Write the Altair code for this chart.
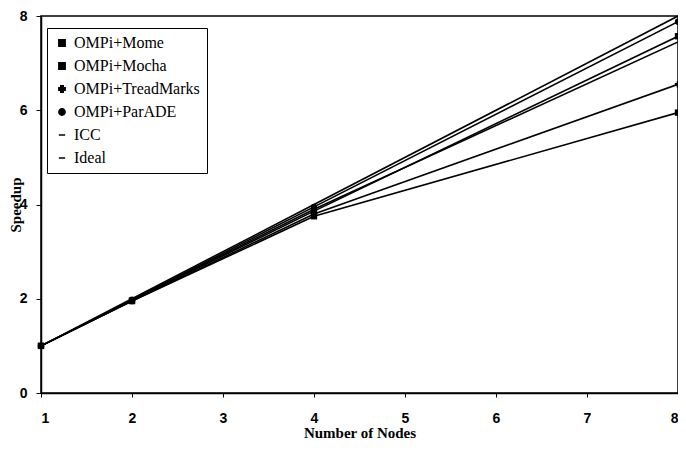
import altair as alt
import pandas as pd

nodes = [1, 2, 4, 8]
series_names = ["OMPi+Mome", "OMPi+Mocha", "OMPi+TreadMarks", "OMPi+ParADE", "ICC", "Ideal"]
mome = [1.0, 1.95, 3.75, 5.95]
mocha = [1.0, 1.96, 3.86, 7.57]
treadmarks = [1.0, 1.95, 3.80, 6.55]
parade = [1.0, 1.98, 3.95, 7.88]
icc = [1.0, 1.97, 3.90, 7.45]
ideal = [1.0, 2.0, 4.0, 8.0]
marker_series = ["OMPi+Mome", "OMPi+Mocha", "OMPi+TreadMarks", "OMPi+ParADE"]
shapes = ["square", "square", "cross", "circle", "stroke", "stroke"]

rows = []
for name, vals in zip(series_names, [mome, mocha, treadmarks, parade, icc, ideal]):
    for n, v in zip(nodes, vals):
        rows.append({"nodes": n, "speedup": v, "series": name})
df = pd.DataFrame(rows)

x = alt.X("nodes:Q", scale=alt.Scale(domain=[1, 8], nice=False),
          axis=alt.Axis(values=[1, 2, 3, 4, 5, 6, 7, 8], title="Number of Nodes",
                        format="d", titlePadding=0, labelPadding=14, tickSize=4))
y = alt.Y("speedup:Q", scale=alt.Scale(domain=[0, 8], nice=False),
          axis=alt.Axis(values=[0, 2, 4, 6, 8], title="Speedup", titleX=-18,
                        labelPadding=9, tickSize=5))
color = alt.Color("series:N", scale=alt.Scale(domain=series_names, range=["black"] * 6),
                  legend=alt.Legend(title=None))
shape = alt.Shape("series:N", scale=alt.Scale(domain=series_names, range=shapes),
                  legend=alt.Legend(title=None))

lines = alt.Chart(df).mark_line(strokeWidth=1.6).encode(x=x, y=y, color=color, shape=shape)
points = alt.Chart(df).transform_filter(
    alt.FieldOneOfPredicate(field="series", oneOf=marker_series)
).mark_point(filled=True, size=40, opacity=1).encode(x=x, y=y, color=color, shape=shape)

chart = alt.layer(lines, points).properties(
    width=637, height=377,
    padding={"left": 33, "top": 8, "right": 0, "bottom": 49},
    autosize="none",
).configure_view(
    stroke="black", strokeWidth=1.5
).configure_axis(
    domainColor="black", domainWidth=1.5, tickColor="black",
    labelFont="Liberation Sans", labelFontWeight="bold", labelFontSize=14, labelColor="black",
    titleFont="Liberation Serif", titleFontWeight="bold", titleFontSize=15, titleColor="black",
    grid=False,
).configure_legend(
    orient="none", legendX=6, legendY=12, strokeColor="black", fillColor="white",
    padding=7, labelFont="Liberation Serif", labelFontSize=16, labelColor="black",
    labelOffset=4, symbolSize=40, symbolStrokeWidth=1.5, rowPadding=7, symbolType="square",
    symbolFillColor="black", symbolStrokeColor="black",
)

chart.save("out.html", embed_options={"renderer": "svg", "actions": False})
